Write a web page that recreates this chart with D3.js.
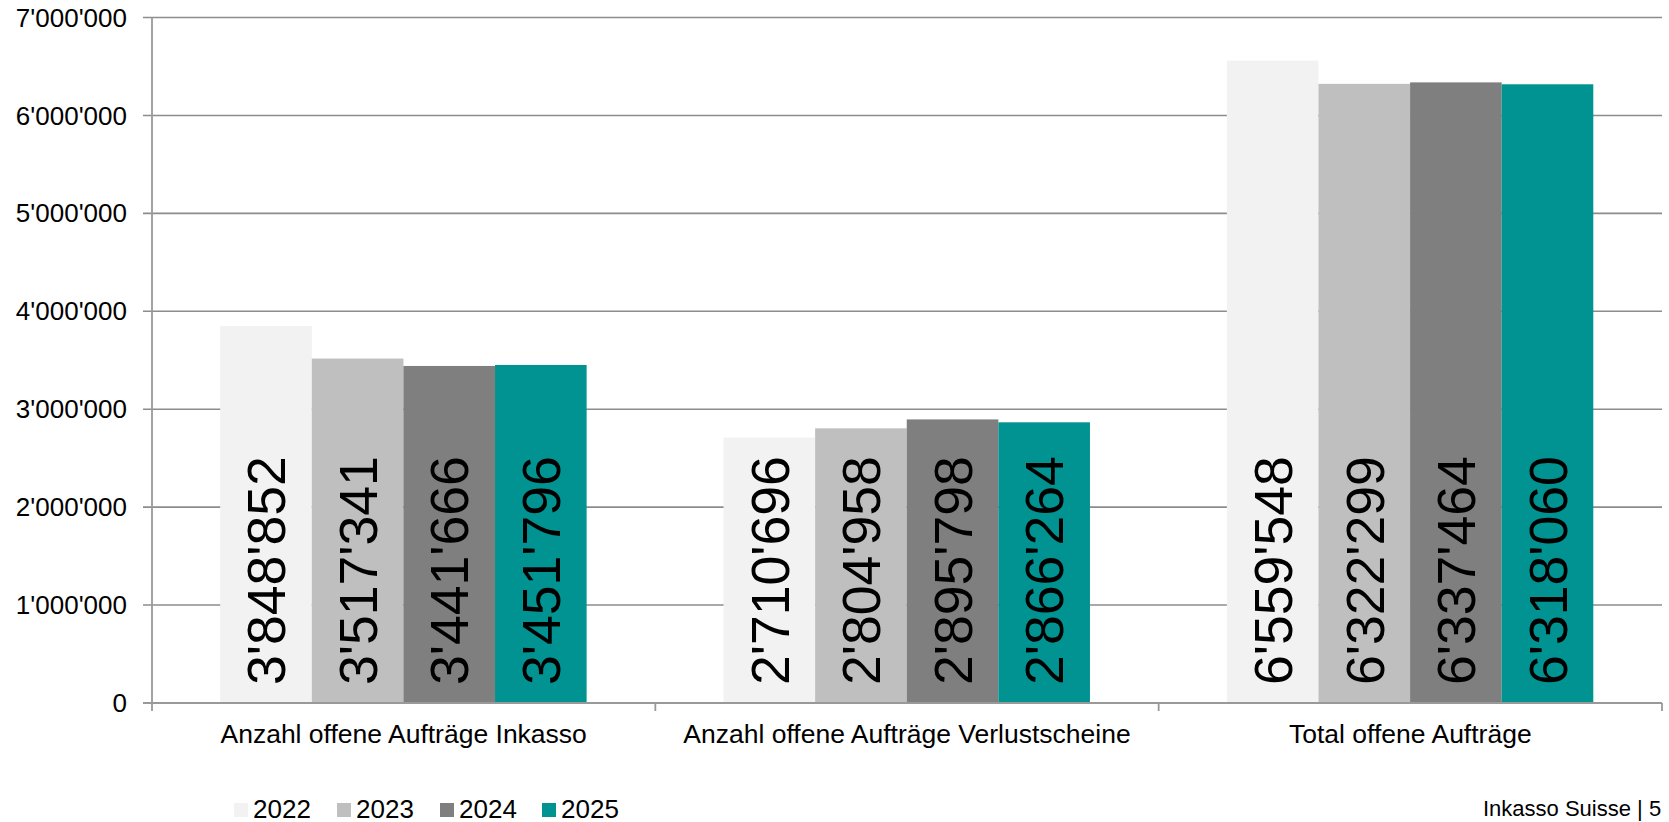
<!DOCTYPE html>
<html>
<head>
<meta charset="utf-8">
<script src="https://cdn.jsdelivr.net/npm/d3@7/dist/d3.min.js"></script>
<style>
  html, body { margin: 0; padding: 0; background: #fff; }
  svg { display: block; font-family: "Liberation Sans", Arial, sans-serif; }
</style>
</head>
<body>
<svg id="chart" width="1669" height="822"></svg>
<script>
const categories = ["Anzahl offene Aufträge Inkasso", "Anzahl offene Aufträge Verlustscheine", "Total offene Aufträge"];
const years = ["2022", "2023", "2024", "2025"];
const values2022 = [3848852, 2710696, 6559548];
const values2023 = [3517341, 2804958, 6322299];
const values2024 = [3441666, 2895798, 6337464];
const values2025 = [3451796, 2866264, 6318060];
const yTicks = [0, 1000000, 2000000, 3000000, 4000000, 5000000, 6000000, 7000000];
const colors = ["#f2f2f2", "#bfbfbf", "#7f7f7f", "#009391"];
const footer = "Inkasso Suisse | 5";

const series = [values2022, values2023, values2024, values2025];
const fmt = v => d3.format(",")(v).replace(/,/g, "'");

const svg = d3.select("#chart");
const pLeft = 152, pRight = 1662, pTop = 17.5, pBottom = 703;

const y = d3.scaleLinear().domain([0, 7000000]).range([pBottom, pTop]);
const x0 = d3.scaleBand().domain(categories).range([pLeft, pRight]).padding(0);
const bw = x0.bandwidth();
const x1 = d3.scaleBand().domain(years).range([bw * 0.1355, bw * 0.8635]).padding(0);

// gridlines
svg.append("g").selectAll("line").data(yTicks.filter(d => d > 0)).join("line")
  .attr("x1", pLeft - 9).attr("x2", pRight)
  .attr("y1", d => y(d)).attr("y2", d => y(d))
  .attr("stroke", "#8c8c8c").attr("stroke-width", 1.6);

// bars
const groups = svg.append("g").selectAll("g").data(categories).join("g")
  .attr("transform", c => `translate(${x0(c)},0)`);

groups.selectAll("rect").data((c, i) => years.map((yr, j) => ({yr, j, v: series[j][i]}))).join("rect")
  .attr("x", d => x1(d.yr))
  .attr("width", x1.bandwidth())
  .attr("y", d => y(d.v))
  .attr("height", d => pBottom - y(d.v))
  .attr("fill", d => colors[d.j]);

// value labels
groups.selectAll("text").data((c, i) => years.map((yr, j) => ({yr, j, v: series[j][i]}))).join("text")
  .attr("transform", d => `translate(${x1(d.yr) + x1.bandwidth() / 2},${pBottom - 18}) rotate(-90)`)
  .attr("dy", "0.36em")
  .attr("font-size", 53.5)
  .attr("fill", "#000")
  .text(d => fmt(d.v));

// x axis baseline
svg.append("line").attr("x1", pLeft - 9).attr("x2", pRight).attr("y1", pBottom).attr("y2", pBottom)
  .attr("stroke", "#999").attr("stroke-width", 1.8);
// y axis line
svg.append("line").attr("x1", pLeft).attr("x2", pLeft).attr("y1", pTop).attr("y2", pBottom + 8)
  .attr("stroke", "#999").attr("stroke-width", 1.8);
// category boundary ticks
svg.append("g").selectAll("line").data(categories).join("line")
  .attr("x1", c => x0(c) + bw).attr("x2", c => x0(c) + bw)
  .attr("y1", pBottom).attr("y2", pBottom + 8)
  .attr("stroke", "#999").attr("stroke-width", 1.8);

// y tick labels
svg.append("g").selectAll("text").data(yTicks).join("text")
  .attr("x", 127).attr("y", d => y(d))
  .attr("dy", "0.35em")
  .attr("text-anchor", "end")
  .attr("font-size", 26)
  .attr("fill", "#000")
  .text(d => fmt(d));

// category labels
svg.append("g").selectAll("text").data(categories).join("text")
  .attr("x", c => x0(c) + bw / 2).attr("y", 743)
  .attr("text-anchor", "middle")
  .attr("font-size", 26.5)
  .attr("fill", "#000")
  .text(c => c);

// legend
const legendX = [234, 337, 440, 542];
const lg = svg.append("g").selectAll("g").data(years).join("g")
  .attr("transform", (d, i) => `translate(${legendX[i]},803)`);
lg.append("rect").attr("width", 14).attr("height", 14).attr("fill", (d, i) => colors[i]);
lg.append("text").attr("x", 19).attr("y", 14.5).attr("font-size", 26).attr("fill", "#000").text(d => d);

// footer
svg.append("text").attr("x", 1483).attr("y", 816).attr("font-size", 22).attr("fill", "#000").text(footer);
</script>
</body>
</html>
